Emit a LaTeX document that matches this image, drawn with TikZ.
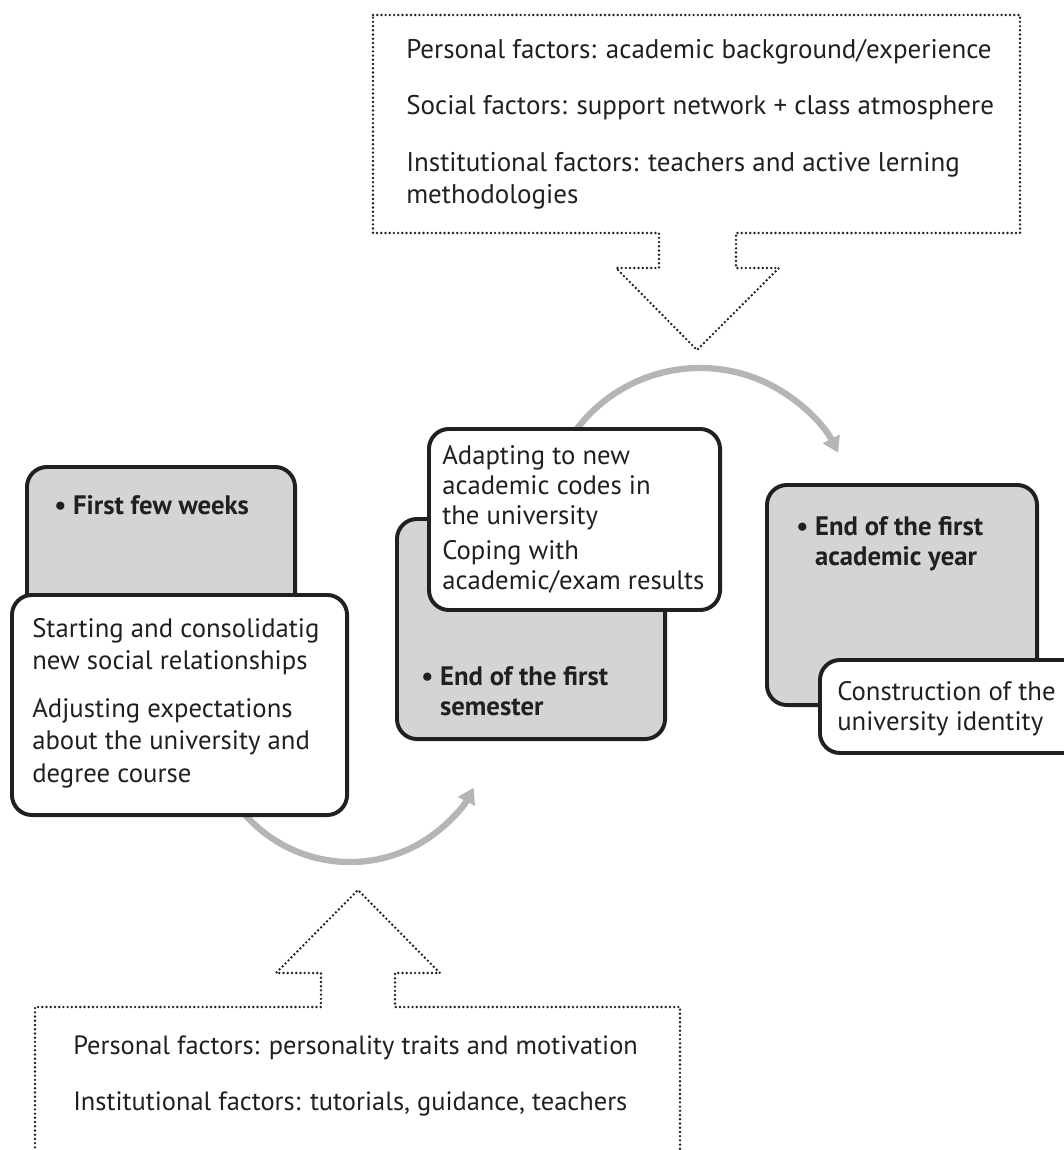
\documentclass[tikz,border=0pt]{standalone}
\usepackage{fontspec}
\setmainfont{PT Sans}
\usetikzlibrary{arrows.meta, positioning}
\definecolor{ink}{RGB}{35,31,32}
\definecolor{phasegray}{RGB}{211,212,214}
\definecolor{arcgray}{RGB}{180,181,185}

\tikzset{
  phase/.style={draw=ink, fill=phasegray, line width=2.8pt, rounded corners=0.5cm,
    anchor=north west, inner sep=0pt},
  note/.style={phase, fill=white},
  boxtext/.style={anchor=north west, inner sep=0pt, align=left, text=ink,
    font=\fontsize{19}{21.5}\selectfont},
  phasetext/.style={boxtext, font=\fontsize{19}{21.5}\selectfont\bfseries},
  factor/.style={draw=ink, line width=1.9pt, line cap=round, dash pattern=on 0pt off 3pt},
  factortext/.style={anchor=north west, inner sep=0pt, align=left, text=ink,
    font=\fontsize{19.2}{23}\selectfont},
  phasearrow/.style={draw=arcgray, line width=4.5pt, -{Triangle[width=13pt,length=11pt]}},
}

\begin{document}
\begin{tikzpicture}[x=0.025cm, y=0.025cm]
    \useasboundingbox (0,0) rectangle (1064,-1150);
    \clip (0,0) rectangle (1064,-1150);

    % factor callouts
    \draw[factor] (373,-15) -- (1020,-15) -- (1020,-233) -- (736,-233) -- (736,-268)
        -- (779,-268) -- (697,-350) -- (616,-268) -- (659,-268) -- (659,-233)
        -- (373,-233) -- cycle;
    \node[factortext] (topfactors) at (406,-39)
        {Personal factors: academic background/experience\\[17pt]
         Social factors: support network + class atmosphere\\[17pt]
         Institutional factors: teachers and active lerning\\
         methodologies};

    \draw[factor] (35,-1160) -- (35,-1007) -- (321,-1007) -- (321,-973) -- (276,-973)
        -- (358,-890) -- (440,-973) -- (395,-973) -- (395,-1007) -- (680,-1007)
        -- (680,-1160);
    \node[factortext, font=\fontsize{18.8}{23}\selectfont] (lowfactors) at (73,-1035)
        {Personal factors: personality traits and motivation\\[17pt]
         Institutional factors: tutorials, guidance, teachers};

    % arrows between phases
    \coordinate (lowpivot) at (350,-722);
    \coordinate (highpivot) at (700,-523);
    \draw[phasearrow] (lowpivot) ++(215:140) arc[start angle=215, end angle=332, radius=3.5cm];
    \draw[phasearrow] (highpivot) ++(150:155) arc[start angle=150, end angle=27, radius=3.875cm];

    % phases
    \node[phase, minimum width=6.7cm, minimum height=4.6cm] (weeks) at (25,-465) {};
    \node[note, minimum width=8.375cm, minimum height=5.5cm] (weeksnote) at (10,-593) {};
    \node[phase, minimum width=6.7cm, minimum height=5.5cm] (semester) at (395,-517) {};
    \node[note, minimum width=7.275cm, minimum height=4.525cm] (semnote) at (427,-427) {};
    \node[phase, minimum width=6.75cm, minimum height=5.5cm] (year) at (765,-483) {};
    \node[note, minimum width=6.75cm, minimum height=2.325cm] (yearnote) at (818,-658) {};

    \node[phasetext] (weekst) at (54,-495) {\textbullet\ First few weeks};
    \node[boxtext, font=\fontsize{19}{23}\selectfont] (weeksnotet) at (32,-618)
        {Starting and consolidatig\\new social relationships\\[11pt]
         Adjusting expectations\\about the university and\\degree course};
    \node[phasetext] (semestert) at (421,-666)
        {\textbullet\ End of the first\\\phantom{\textbullet\ }semester};
    \node[boxtext] (semnotet) at (442,-445)
        {Adapting to new\\academic codes in\\the university\\[3pt]
         Coping with\\academic/exam results};
    \node[phasetext] (yeart) at (796,-516)
        {\textbullet\ End of the first\\\phantom{\textbullet\ }academic year};
    \node[boxtext] (yearnotet) at (837,-681)
        {Construction of the\\university identity};
\end{tikzpicture}
\end{document}
